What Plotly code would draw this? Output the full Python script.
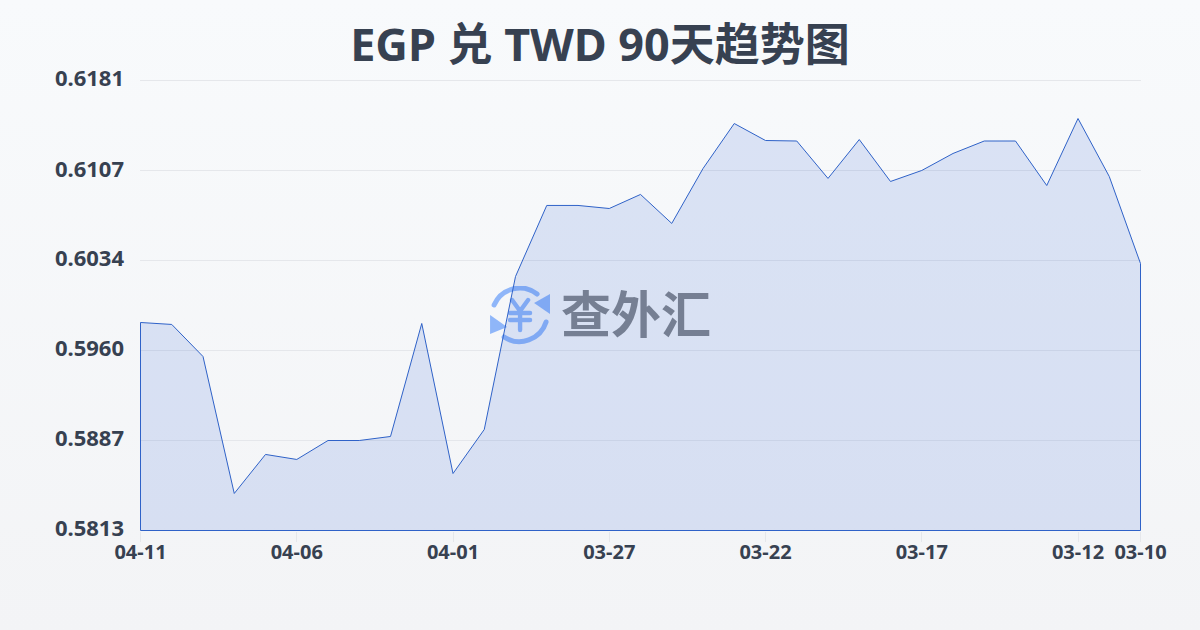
"""EGP to TWD 90-day trend, area chart on a soft gradient page."""
import base64

import plotly.graph_objects as go

FONT = "Noto Sans, Noto Sans CJK SC"
INK = "#374151"

dates = [
    "04-11", "04-10", "04-09", "04-08", "04-07", "04-06", "04-05", "04-04", "04-03",
    "04-02", "04-01", "03-31", "03-30", "03-29", "03-28", "03-27", "03-26", "03-25",
    "03-24", "03-23", "03-22", "03-21", "03-20", "03-19", "03-18", "03-17", "03-16",
    "03-15", "03-14", "03-13", "03-12", "03-11", "03-10",
]
rates = [
    0.59831, 0.59815, 0.59553, 0.58433, 0.58752, 0.58711, 0.58866, 0.58866, 0.58899,
    0.59823, 0.58596, 0.58956, 0.60207, 0.60788, 0.60788, 0.60763, 0.60878, 0.60641,
    0.61090, 0.61458, 0.61319, 0.61315, 0.61009, 0.61327, 0.60984, 0.61074, 0.61213,
    0.61315, 0.61315, 0.60951, 0.61499, 0.61025, 0.60313,
]
x_ticks = ["04-11", "04-06", "04-01", "03-27", "03-22", "03-17", "03-12", "03-10"]
y_ticks = [0.5813, 0.5887, 0.5960, 0.6034, 0.6107, 0.6181]


def svg_uri(svg):
    return "data:image/svg+xml;base64," + base64.b64encode(svg.encode()).decode()


BG_SVG = """<svg xmlns="http://www.w3.org/2000/svg" width="1200" height="630">
<defs><linearGradient id="g" x1="0" y1="0" x2="0" y2="1">
<stop offset="0" stop-color="#f8fafc"/><stop offset="1" stop-color="#f3f4f6"/>
</linearGradient></defs><rect width="1200" height="630" fill="url(#g)"/></svg>"""

# exchange icon of the watermark, 60x60 viewbox
ICON_SVG = """<svg xmlns="http://www.w3.org/2000/svg" width="60" height="60" viewBox="0 0 60 60">
<g fill="none" stroke="#8fb6f9" stroke-width="5" stroke-linecap="round">
<path d="M4 19 A28 28 0 0 1 47 8"/><path d="M56 36 A28 28 0 0 1 14 51"/>
<path d="M22 14 L30 25 L38 14 M30 25 V44 M20 27 H40 M20 34 H40" stroke-width="4.4"/>
</g><g fill="#8fb6f9">
<path d="M60 8 L60 28 L44 17 Z"/><path d="M0 29 L0 48 L17 41 Z"/>
</g></svg>"""

# outline runs along the axis minimum too, so the area is fully boxed
fig = go.Figure(go.Scatter(
    x=[dates[0]] + dates + [dates[-1], dates[0]],
    y=[y_ticks[0]] + rates + [y_ticks[0], y_ticks[0]],
    mode="lines",
    line=dict(color="#2f62c8", width=1),
    fill="toself",
    fillcolor="rgba(40,90,210,0.14)",
    cliponaxis=False,
    hoverinfo="skip",
))

fig.update_layout(
    width=1200,
    height=630,
    margin=dict(l=140, r=59, t=79, b=99),
    paper_bgcolor="#f8fafc",
    plot_bgcolor="rgba(0,0,0,0)",
    showlegend=False,
    font=dict(family=FONT, color=INK),
    title=dict(
        text="<b>EGP 兑 TWD 90天趋势图</b>",
        font=dict(size=45, color=INK, family=FONT),
        x=0.5, xanchor="center", xref="container",
        y=0.928, yanchor="middle",
    ),
    xaxis=dict(
        type="category",
        categoryorder="array",
        categoryarray=dates,
        # half a pixel of slack puts the box sides on a pixel centre
        range=[-0.016, len(dates) - 1 + 0.016],
        tickmode="array",
        tickvals=x_ticks,
        ticks="outside",
        ticklen=10,
        tickwidth=1,
        tickcolor="#e5e7eb",
        ticklabelstandoff=-7,
        showgrid=False,
        zeroline=False,
        showline=False,
        tickfont=dict(size=20, color=INK, family=FONT, weight="bold"),
    ),
    yaxis=dict(
        # plotly skips gridlines within 1px of the ends, so overshoot at the top
        range=[y_ticks[0] - 0.00004, y_ticks[-1] + 0.00012],
        tickmode="array",
        tickvals=y_ticks,
        tickformat=".4f",
        ticks="",
        ticklabelstandoff=15,
        ticklabelshift=-2,
        showgrid=True,
        gridcolor="#e5e7eb",
        gridwidth=1,
        zeroline=False,
        showline=False,
        tickfont=dict(size=22, color=INK, family=FONT, weight="bold"),
    ),
    images=[
        dict(source=svg_uri(BG_SVG), xref="paper", yref="paper", x=-140 / 1001, y=1 + 79 / 452,
             sizex=1200 / 1001, sizey=630 / 452, sizing="stretch", xanchor="left", yanchor="top",
             layer="below"),
        dict(source=svg_uri(ICON_SVG), xref="paper", yref="paper", x=0.3497, y=0.542,
             sizex=0.06, sizey=0.1327, sizing="contain", xanchor="left", yanchor="top", layer="below"),
    ],
    annotations=[dict(
        text="<b>查外汇</b>",
        xref="paper", yref="paper", x=0.496, y=0.479,
        xanchor="center", yanchor="middle", showarrow=False,
        font=dict(size=50, color="rgba(75,85,105,0.7)", family=FONT),
    )],
)

# drop the default body margin so the figure fills the window
fig.write_html(
    "out.html",
    config={"displayModeBar": False},
    post_script="document.body.style.margin = '0';",
)
